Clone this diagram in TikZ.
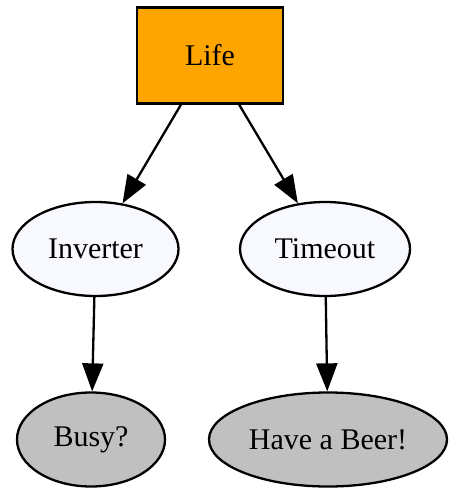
\documentclass[tikz,border=0pt]{standalone}
\usepackage{fontspec}
\setmainfont{Liberation Serif}
\usetikzlibrary{shapes.geometric,arrows.meta}
\definecolor{lifeorange}{HTML}{FFA500}
\definecolor{ghost}{HTML}{F8F8FF}
\definecolor{grayfill}{HTML}{C0C0C0}
\tikzset{
  every node/.style={font=\fontsize{30}{36}\selectfont, line width=2.3pt, draw=black, inner sep=0pt},
  boxnode/.style={rectangle, fill=lifeorange, minimum width=146pt, minimum height=96pt},
  midnode/.style={ellipse, fill=ghost, minimum height=94pt},
  endnode/.style={ellipse, fill=grayfill, minimum height=94pt},
  arr/.style={line width=2.3pt, -{Triangle[length=28pt,width=21pt]}}
}
\begin{document}
\begin{tikzpicture}[x=1pt,y=1pt]
\useasboundingbox (0,0) rectangle (448,-489);
\node[boxnode] (life) at (210,-55.5) {Life};
\node[midnode, minimum width=166pt] (inv) at (95.5,-249) {Inverter};
\node[midnode, minimum width=170pt] (tim) at (325,-249) {Timeout};
\node[endnode, minimum width=148pt] (busy) at (91,-439.5) {Busy?};
\node[endnode, minimum width=238pt] (beer) at (328,-439.5) {Have a Beer!};
\draw[arr] (life) -- (inv);
\draw[arr] (life) -- (tim);
\draw[arr] (inv) -- (busy);
\draw[arr] (tim) -- (beer);
\end{tikzpicture}
\end{document}
